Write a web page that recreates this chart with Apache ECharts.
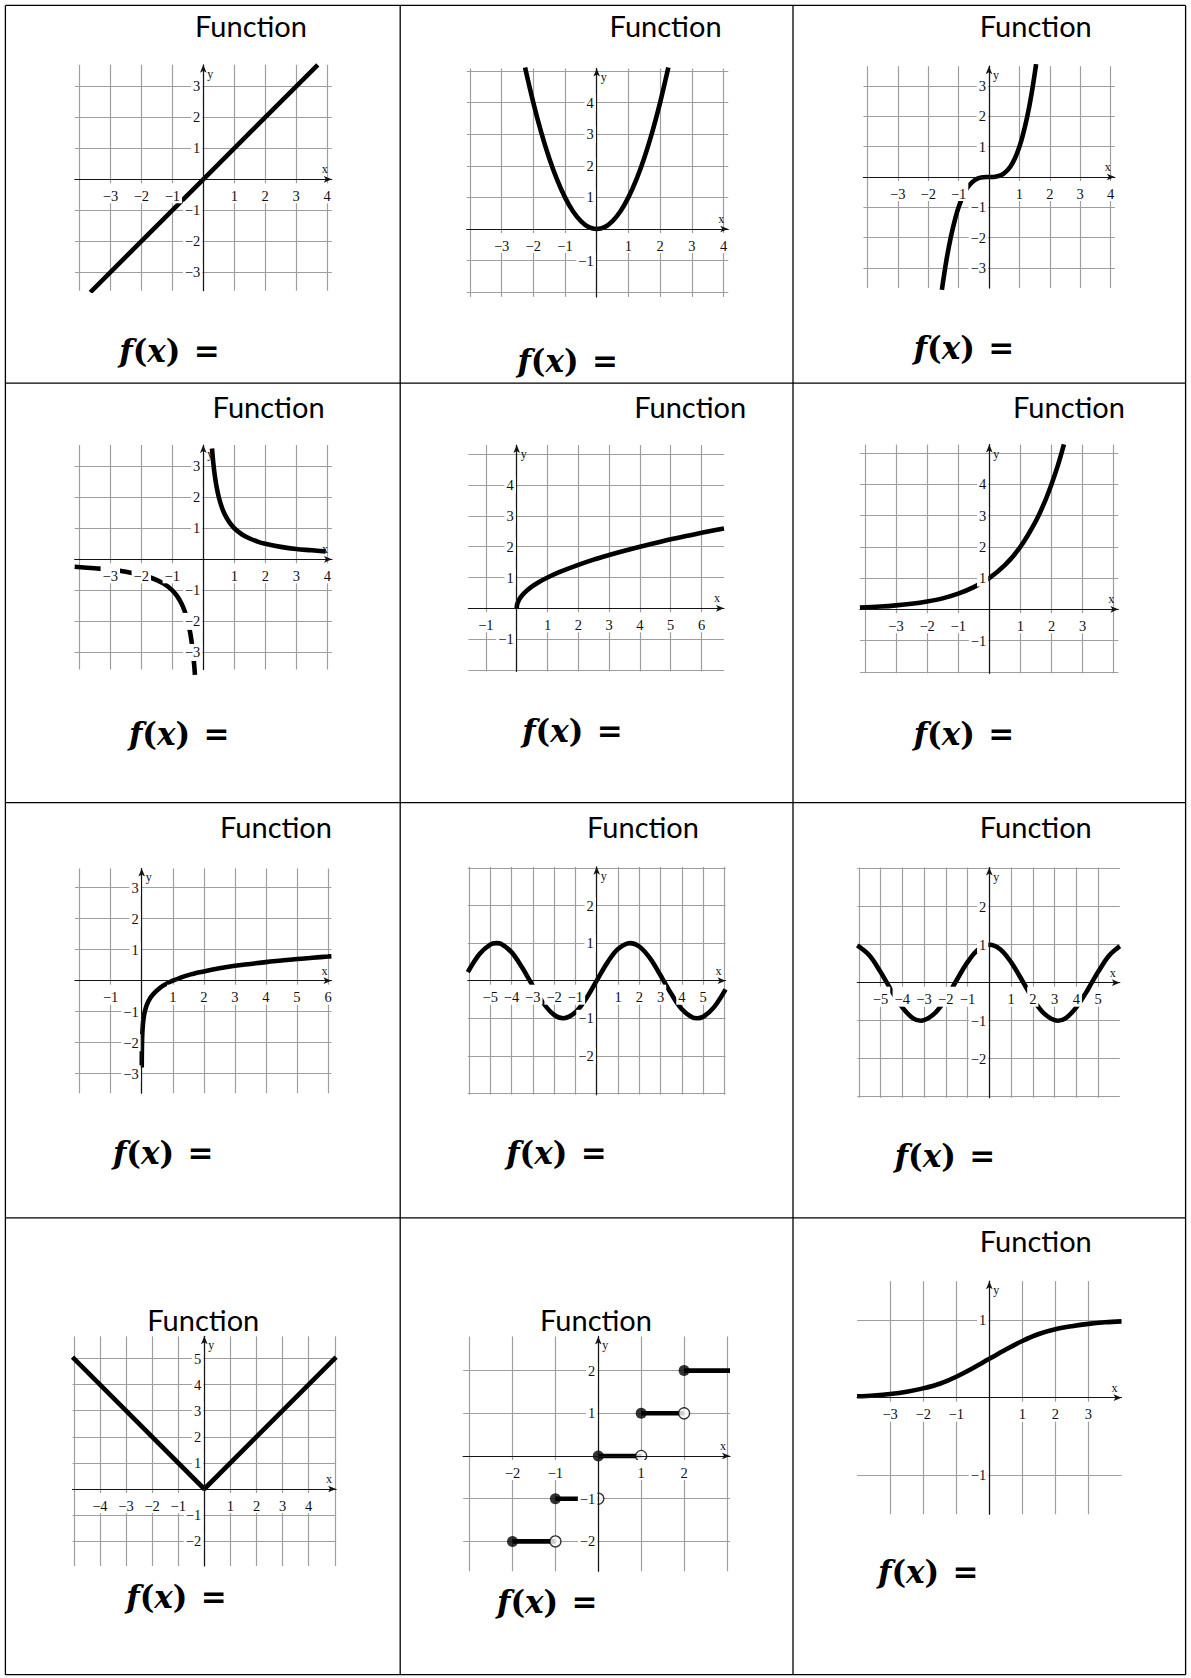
<!DOCTYPE html>
<html>
<head>
<meta charset="utf-8">
<script src="https://cdn.jsdelivr.net/npm/echarts@6/dist/echarts.min.js"></script>
<style>
  html, body { margin: 0; padding: 0; background: #fff; }
  #chart { width: 1191px; height: 1678px; }
</style>
</head>
<body>
<div id="chart"></div>
<script>
// ---------- curve samples, (x, y) pairs ----------
const identityPts = [[-3.65, -3.65], [0, 0], [3.7, 3.7]];
const squarePts = [[-2.26, 5.11], [-2, 4], [-1.75, 3.06], [-1.5, 2.25], [-1.25, 1.56], [-1, 1], [-0.75, 0.56], [-0.5, 0.25], [-0.25, 0.06], [0, 0],
  [0.25, 0.06], [0.5, 0.25], [0.75, 0.56], [1, 1], [1.25, 1.56], [1.5, 2.25], [1.75, 3.06], [2, 4], [2.26, 5.11]];
const cubePts = [[-1.55, -3.72], [-1.4, -2.74], [-1.25, -1.95], [-1.1, -1.33], [-1, -1], [-0.85, -0.61], [-0.7, -0.34], [-0.55, -0.17], [-0.4, -0.06], [-0.2, -0.01], [0, 0],
  [0.2, 0.01], [0.4, 0.06], [0.55, 0.17], [0.7, 0.34], [0.85, 0.61], [1, 1], [1.1, 1.33], [1.25, 1.95], [1.4, 2.74], [1.55, 3.72]];
const recipRightPts = [[0.28, 3.57], [0.32, 3.13], [0.36, 2.78], [0.42, 2.38], [0.5, 2], [0.6, 1.67], [0.7, 1.43], [0.85, 1.18], [1, 1], [1.25, 0.8],
  [1.5, 0.67], [1.75, 0.57], [2, 0.5], [2.5, 0.4], [3, 0.33], [3.5, 0.29], [3.95, 0.25]];
const recipLeftPts = [[-4.15, -0.24], [-3.5, -0.29], [-3, -0.33], [-2.5, -0.4], [-2, -0.5], [-1.75, -0.57], [-1.5, -0.67], [-1.25, -0.8], [-1, -1],
  [-0.85, -1.18], [-0.7, -1.43], [-0.6, -1.67], [-0.5, -2], [-0.42, -2.38], [-0.36, -2.78], [-0.32, -3.13], [-0.29, -3.45], [-0.27, -3.72]];
const sqrtPts = [[0, 0], [0.01, 0.1], [0.03, 0.17], [0.06, 0.24], [0.1, 0.32], [0.16, 0.4], [0.25, 0.5], [0.36, 0.6], [0.5, 0.71], [0.7, 0.84], [1, 1],
  [1.4, 1.18], [2, 1.41], [2.5, 1.58], [3, 1.73], [3.5, 1.87], [4, 2], [4.5, 2.12], [5, 2.24], [5.5, 2.35], [6, 2.45], [6.5, 2.55], [6.73, 2.59]];
const expPts = [[-4.16, 0.056], [-3.5, 0.088], [-3, 0.125], [-2.5, 0.177], [-2, 0.25], [-1.5, 0.35], [-1, 0.5], [-0.5, 0.71], [0, 1], [0.5, 1.41],
  [1, 2], [1.5, 2.83], [1.8, 3.48], [2, 4], [2.2, 4.59], [2.4, 5.28]];
const logPts = [[0.0016, -2.8], [0.003, -2.52], [0.005, -2.3], [0.01, -2], [0.02, -1.7], [0.04, -1.4], [0.07, -1.15], [0.1, -1], [0.15, -0.82],
  [0.2, -0.7], [0.3, -0.52], [0.45, -0.35], [0.6, -0.22], [0.8, -0.1], [1, 0], [1.5, 0.18], [2, 0.3], [2.5, 0.4], [3, 0.48], [3.5, 0.54], [4, 0.6],
  [4.5, 0.65], [5, 0.7], [5.5, 0.74], [6, 0.78], [6.11, 0.79]];
const sinePts = [[-6.05, 0.23], [-5.5, 0.71], [-5, 0.96], [-4.71, 1], [-4.5, 0.98], [-4, 0.76], [-3.5, 0.35], [-3.14, 0], [-3, -0.14], [-2.5, -0.6],
  [-2, -0.91], [-1.57, -1], [-1, -0.84], [-0.5, -0.48], [0, 0], [0.5, 0.48], [1, 0.84], [1.57, 1], [2, 0.91], [2.5, 0.6], [3, 0.14], [3.14, 0],
  [3.5, -0.35], [4, -0.76], [4.5, -0.98], [4.71, -1], [5, -0.96], [5.5, -0.71], [6.05, -0.23]];
const cosinePts = [[-6.07, 0.98], [-5.5, 0.71], [-5, 0.28], [-4.71, 0], [-4.5, -0.21], [-4, -0.65], [-3.5, -0.94], [-3.14, -1], [-2.5, -0.8],
  [-2, -0.42], [-1.57, 0], [-1, 0.54], [-0.5, 0.88], [0, 1], [0.5, 0.88], [1, 0.54], [1.57, 0], [2, -0.42], [2.5, -0.8], [3.14, -1], [3.5, -0.94],
  [4, -0.65], [4.5, -0.21], [4.71, 0], [5, 0.28], [5.5, 0.71], [6, 0.96]];
const absPts = [[-5.05, 5.05], [0, 0], [5.05, 5.05]];
const logisticPts = [[-4, 0.018], [-3.5, 0.029], [-3, 0.047], [-2.5, 0.076], [-2, 0.12], [-1.5, 0.18], [-1, 0.27], [-0.5, 0.38], [0, 0.5],
  [0.5, 0.62], [1, 0.73], [1.5, 0.82], [2, 0.88], [2.5, 0.92], [3, 0.95], [3.5, 0.97], [4, 0.982]];

// greatest-integer steps: [from, to, value]
const floorSteps = [[-2, -1, -2], [-1, 0, -1], [0, 1, 0], [1, 2, 1], [2, 3.07, 2]];
const floorClosed = [[-2, -2], [-1, -1], [0, 0], [1, 1], [2, 2]];
const floorOpen = [[-1, -2], [0, -1], [1, 0], [2, 1]];

// ---------- tick labels ----------
const ticksX1 = [-3, -2, -1, 1, 2, 3, 4], ticksY1 = [-3, -2, -1, 1, 2, 3];
const ticksX2 = [-3, -2, -1, 1, 2, 3, 4], ticksY2 = [-1, 1, 2, 3, 4];
const ticksX3 = [-3, -2, -1, 1, 2, 3, 4], ticksY3 = [-3, -2, -1, 1, 2, 3];
const ticksX4 = [-3, -2, -1, 1, 2, 3, 4], ticksY4 = [-3, -2, -1, 1, 2, 3];
const ticksX5 = [-1, 1, 2, 3, 4, 5, 6], ticksY5 = [-1, 1, 2, 3, 4];
const ticksX6 = [-3, -2, -1, 1, 2, 3], ticksY6 = [-1, 1, 2, 3, 4];
const ticksX7 = [-1, 1, 2, 3, 4, 5, 6], ticksY7 = [-3, -2, -1, 1, 2, 3];
const ticksX8 = [-5, -4, -3, -2, -1, 1, 2, 3, 4, 5], ticksY8 = [-2, -1, 1, 2];
const ticksX9 = [-5, -4, -3, -2, -1, 1, 2, 3, 4, 5], ticksY9 = [-2, -1, 1, 2];
const ticksX10 = [-4, -3, -2, -1, 1, 2, 3, 4], ticksY10 = [-2, -1, 1, 2, 3, 4, 5];
const ticksX11 = [-2, -1, 1, 2], ticksY11 = [-2, -1, 1, 2];
const ticksX12 = [-3, -2, -1, 1, 2, 3], ticksY12 = [-1, 1];

// ---------- cell texts ----------
const cellTitle = 'Function';
const answerText = '{i|f}{u|(}{i|x}{u|)}{s| }{u|=}';

// ---------- layout ----------
// cx, cy: pixel position of the origin; ux, uy: pixels per unit; xr, yr: visible ranges
const panels = [
  { cx: 203.3, cy: 179.3, ux: 30.95, uy: 30.95, xr: [-4.15, 4.15], yr: [-3.6, 3.7], xt: ticksX1, yt: ticksY1, curves: [identityPts], straight: true },
  { cx: 596.7, cy: 229, ux: 31.7, uy: 31.6, xr: [-4.1, 4.15], yr: [-2.15, 5.08], xt: ticksX2, yt: ticksY2, curves: [squarePts] },
  { cx: 989, cy: 177, ux: 30.4, uy: 30.35, xr: [-4.13, 4.14], yr: [-3.66, 3.65], xt: ticksX3, yt: ticksY3, curves: [cubePts] },
  { cx: 203.3, cy: 559.3, ux: 31, uy: 31.05, xr: [-4.15, 4.15], yr: [-3.55, 3.68], xt: ticksX4, yt: ticksY4, curves: [recipRightPts, recipLeftPts], noClip: true },
  { cx: 516.7, cy: 608.3, ux: 30.8, uy: 30.8, xr: [-1.57, 6.73], yr: [-2.05, 5.3], xt: ticksX5, yt: ticksY5, curves: [sqrtPts] },
  { cx: 989.3, cy: 609.3, ux: 31.1, uy: 31.25, xr: [-4.16, 4.15], yr: [-2.05, 5.27], xt: ticksX6, yt: ticksY6, curves: [expPts] },
  { cx: 141.7, cy: 980.7, ux: 31.05, uy: 31, xr: [-2.15, 6.11], yr: [-3.63, 3.62], xt: ticksX7, yt: ticksY7, curves: [logPts] },
  { cx: 596.7, cy: 980.7, ux: 21.3, uy: 37.6, xr: [-6.05, 6.05], yr: [-3.03, 3.03], xt: ticksX8, yt: ticksY8, curves: [sinePts] },
  { cx: 989.3, cy: 982.7, ux: 21.75, uy: 38, xr: [-6.07, 6.0], yr: [-3.03, 3.03], xt: ticksX9, yt: ticksY9, curves: [cosinePts] },
  { cx: 204.3, cy: 1489, ux: 26.1, uy: 26.1, xr: [-5.05, 5.05], yr: [-2.95, 5.85], xt: ticksX10, yt: ticksY10, curves: [absPts], straight: true },
  { cx: 598.3, cy: 1456, ux: 42.9, uy: 42.7, xr: [-3.15, 3.07], yr: [-2.7, 2.8], xt: ticksX11, yt: ticksY11, curves: [], steps: true },
  { cx: 989.3, cy: 1397.7, ux: 33.05, uy: 77.7, xr: [-4, 4], yr: [-1.5, 1.5], xt: ticksX12, yt: ticksY12, curves: [logisticPts] }
];

const titlePos = [[251, 25.7], [665.6, 25.7], [1035.8, 25.7], [268.6, 406.6], [690.2, 406.6], [1069, 406.6],
  [276, 826], [643, 826], [1035.8, 826], [203.3, 1319.4], [596, 1319.4], [1035.8, 1240]];
const answerPos = [[169.6, 351], [567.7, 360.6], [964, 347.8], [179.2, 734], [572.5, 730.9], [964, 734],
  [163.2, 1152.5], [556.4, 1152.5], [944.9, 1155.7], [176.6, 1596.6], [547.3, 1601.9], [928.3, 1572]];
const tableCols = [5.4, 400.2, 793, 1185.6];
const tableRows = [5.4, 383.1, 802.6, 1217.8, 1674.7];

// ---------- styles ----------
const TICK_FONT = 'Liberation Serif';
const GRID_COLOR = '#9e9e9e';
const AXIS_COLOR = '#141414';
const CURVE_WIDTH = 4.6;

const minusFmt = v => (v < 0 ? '\u2212' + Math.abs(v) : String(v));

const option = {
  animation: false,
  backgroundColor: '#fff',
  grid: [], xAxis: [], yAxis: [], series: [], graphic: []
};

panels.forEach((p, i) => {
  const gw = (p.xr[1] - p.xr[0]) * p.ux;
  const gh = (p.yr[1] - p.yr[0]) * p.uy;
  option.grid.push({
    left: p.cx + p.xr[0] * p.ux,
    top: p.cy - p.yr[1] * p.uy,
    width: gw,
    height: gh,
    outerBoundsMode: 'none'
  });

  const gridLineAxis = (range, pos) => ({
    gridIndex: i, type: 'value', min: range[0], max: range[1], minInterval: 1, maxInterval: 1,
    position: pos, z: 0,
    axisLine: { show: false, onZero: false }, axisTick: { show: false }, axisLabel: { show: false },
    splitLine: { show: true, showMinLine: false, showMaxLine: false, lineStyle: { color: GRID_COLOR, width: 1.2 } }
  });
  option.xAxis.push(gridLineAxis(p.xr, 'top'));
  option.yAxis.push(gridLineAxis(p.yr, 'right'));

  const labelStyle = {
    fontFamily: TICK_FONT, fontSize: 14.5, color: '#111', backgroundColor: '#fff', formatter: minusFmt
  };
  const axisLine = { show: true, onZero: false, symbol: ['none', 'arrow'], symbolSize: [5, 8], lineStyle: { color: AXIS_COLOR, width: 1.2 } };
  // the labelled axes are shifted from the grid edges onto the origin lines
  option.xAxis.push({
    gridIndex: i, type: 'value', min: p.xr[0], max: p.xr[1], minInterval: 1, maxInterval: 1,
    position: 'bottom', offset: p.yr[0] * p.uy, z: 4,
    axisLine, axisTick: { show: false }, splitLine: { show: false },
    axisLabel: Object.assign({ customValues: p.xt, margin: 4, padding: [5, 2, 0, 2] }, labelStyle),
    name: 'x', nameLocation: 'end', nameGap: -7,
    nameTextStyle: { fontFamily: TICK_FONT, fontSize: 12, color: '#111', align: 'center', verticalAlign: 'bottom', padding: [0, 0, 4, 0] }
  });
  option.yAxis.push({
    gridIndex: i, type: 'value', min: p.yr[0], max: p.yr[1], minInterval: 1, maxInterval: 1,
    position: 'left', offset: p.xr[0] * p.ux, z: 4,
    axisLine, axisTick: { show: false }, splitLine: { show: false },
    axisLabel: Object.assign({ customValues: p.yt, margin: 1, padding: [1, 2, 1, 2] }, labelStyle),
    name: 'y', nameLocation: 'end', nameGap: -3,
    nameTextStyle: { fontFamily: TICK_FONT, fontSize: 12, color: '#111', align: 'left', verticalAlign: 'top', padding: [0, 0, 0, 4] }
  });

  const ax = 2 * i + 1;
  p.curves.forEach(pts => {
    option.series.push({
      type: 'line', xAxisIndex: ax, yAxisIndex: ax, data: pts, symbol: 'none', smooth: p.straight ? false : 0.35,
      clip: !p.noClip, silent: true, z: 2,
      lineStyle: { color: '#000', width: CURVE_WIDTH }
    });
  });

  if (p.steps) {
    floorSteps.forEach(s => {
      option.series.push({
        type: 'line', xAxisIndex: ax, yAxisIndex: ax, data: [[s[0], s[2]], [s[1], s[2]]], symbol: 'none',
        silent: true, z: 2, lineStyle: { color: '#000', width: CURVE_WIDTH }
      });
    });
    option.series.push({
      type: 'scatter', xAxisIndex: ax, yAxisIndex: ax, data: floorClosed, symbol: 'circle', symbolSize: 11,
      silent: true, z: 3, itemStyle: { color: '#000' }
    });
    option.series.push({
      type: 'scatter', xAxisIndex: ax, yAxisIndex: ax, data: floorOpen, symbol: 'circle', symbolSize: 11,
      silent: true, z: 3, itemStyle: { color: '#fff', borderColor: '#000', borderWidth: 1.3 }
    });
  }
});

// table rules
tableCols.forEach(x => option.graphic.push({
  type: 'line', silent: true, z: 10,
  shape: { x1: x, y1: tableRows[0], x2: x, y2: tableRows[tableRows.length - 1] },
  style: { stroke: '#000', lineWidth: 1.3 }
}));
tableRows.forEach(y => option.graphic.push({
  type: 'line', silent: true, z: 10,
  shape: { x1: tableCols[0], y1: y, x2: tableCols[tableCols.length - 1], y2: y },
  style: { stroke: '#000', lineWidth: 1.3 }
}));

// cell headings and answer prompts
titlePos.forEach(pos => option.graphic.push({
  type: 'text', silent: true, z: 10,
  style: { text: cellTitle, x: pos[0], y: pos[1], textAlign: 'center', textVerticalAlign: 'middle',
    font: '29px Lato', fill: '#000' }
}));
answerPos.forEach(pos => option.graphic.push({
  type: 'text', silent: true, z: 10,
  style: {
    text: answerText, x: pos[0], y: pos[1], textAlign: 'center', textVerticalAlign: 'middle', fill: '#000',
    rich: {
      i: { fontFamily: 'DejaVu Serif', fontStyle: 'italic', fontWeight: 'bold', fontSize: 31, fill: '#000' },
      u: { fontFamily: 'DejaVu Serif', fontWeight: 'bold', fontSize: 31, fill: '#000' },
      s: { fontFamily: 'DejaVu Serif', fontSize: 42, fill: '#000' }
    }
  }
}));

const chart = echarts.init(document.getElementById('chart'), null, { renderer: 'svg', width: 1191, height: 1678 });
chart.setOption(option);
</script>
</body>
</html>
